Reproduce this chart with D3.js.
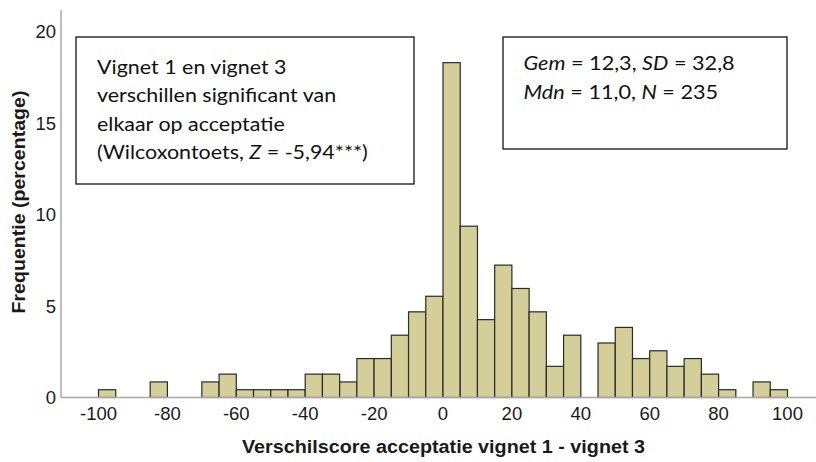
<!DOCTYPE html>
<html>
<head>
<meta charset="utf-8">
<script src="https://cdn.jsdelivr.net/npm/d3@7"></script>
<style>
  body { margin: 0; background: #fff; }
  svg { display: block; }
</style>
</head>
<body>
<div id="chart"></div>
<script>
"use strict";

// bins of 5 points, lower edges from -100 up to 95
let binStarts = d3.range(-100, 100, 5);
// number of respondents per bin (N = 235)
let binCounts = [1, 0, 0, 2, 0, 0, 2, 3, 1, 1, 1, 1, 3, 3, 2, 5, 5, 8, 11, 13,
                 43, 22, 10, 17, 14, 11, 4, 8, 0, 7, 9, 5, 6, 4, 5, 3, 1, 0, 2, 1];
let totalN = 235;

let xTicks = [-100, -80, -60, -40, -20, 0, 20, 40, 60, 80, 100];
let yTicks = [0, 5, 10, 15, 20];

let xTitle = "Verschilscore acceptatie vignet 1 - vignet 3";
let yTitle = "Frequentie (percentage)";

// text boxes, each line is a list of [text, italic]
let leftBoxLines = [
  [["Vignet 1 en vignet 3", false]],
  [["verschillen significant van", false]],
  [["elkaar op acceptatie", false]],
  [["(Wilcoxontoets, ", false], ["Z", true], [" = -5,94***)", false]]
];
let rightBoxLines = [
  [["Gem", true], [" = 12,3, ", false], ["SD", true], [" = 32,8", false]],
  [["Mdn", true], [" = 11,0, ", false], ["N", true], [" = 235", false]]
];

let bins = binStarts.map(function(lo, i) {
  return { lo: lo, hi: lo + 5, pct: binCounts[i] / totalN * 100 };
});

var width = 816,
    height = 462;

var svg = d3.select('#chart').append('svg')
  .attr('width', width)
  .attr('height', height);

var xScale = d3.scaleLinear().domain([-100, 100]).range([98.5, 787.5]);
var yScale = d3.scaleLinear().domain([0, 20]).range([397.5, 31.5]);

var axisFont = "'Liberation Sans', Arial, sans-serif";
var boxFont = "Lato, 'Open Sans', sans-serif";

// bars
svg.append('g').selectAll('rect')
  .data(bins.filter(function(d) { return d.pct > 0; }))
  .enter().append('rect')
    .attr('x', function(d) { return xScale(d.lo); })
    .attr('width', function(d) { return xScale(d.hi) - xScale(d.lo); })
    .attr('y', function(d) { return yScale(d.pct); })
    .attr('height', function(d) { return yScale(0) - yScale(d.pct); })
    .style('fill', '#d4cf99')
    .style('stroke', '#2a2a2a')
    .style('stroke-width', 1.2);

// axis lines (no tick marks in the original)
svg.append('line')
  .attr('x1', 61).attr('x2', 61)
  .attr('y1', 10).attr('y2', yScale(0))
  .style('stroke', '#a9a9a9').style('stroke-width', 1.5);
svg.append('line')
  .attr('x1', 61).attr('x2', width)
  .attr('y1', yScale(0)).attr('y2', yScale(0))
  .style('stroke', '#a9a9a9').style('stroke-width', 1.5);

// tick labels
svg.append('g').selectAll('text')
  .data(xTicks)
  .enter().append('text')
    .attr('x', function(d) { return xScale(d); })
    .attr('y', 419.5)
    .attr('text-anchor', 'middle')
    .style('font-family', axisFont)
    .style('font-size', '18.5px')
    .style('fill', '#1a1a1a')
    .text(function(d) { return d; });

svg.append('g').selectAll('text')
  .data(yTicks)
  .enter().append('text')
    .attr('x', 56)
    .attr('y', function(d) { return yScale(d); })
    .attr('dy', '0.36em')
    .attr('text-anchor', 'end')
    .style('font-family', axisFont)
    .style('font-size', '18.5px')
    .style('fill', '#1a1a1a')
    .text(function(d) { return d; });

// axis titles
svg.append('text')
  .attr('x', 443.5)
  .attr('y', 452.5)
  .attr('text-anchor', 'middle')
  .attr('textLength', 403)
  .attr('lengthAdjust', 'spacingAndGlyphs')
  .style('font-family', axisFont)
  .style('font-size', '17.5px')
  .style('font-weight', 'bold')
  .style('fill', '#1a1a1a')
  .text(xTitle);

svg.append('text')
  .attr('transform', 'translate(25,202) rotate(-90)')
  .attr('text-anchor', 'middle')
  .attr('textLength', 223)
  .attr('lengthAdjust', 'spacingAndGlyphs')
  .style('font-family', axisFont)
  .style('font-size', '17.5px')
  .style('font-weight', 'bold')
  .style('fill', '#1a1a1a')
  .text(yTitle);

// annotation boxes
function drawBox(x0, y0, x1, y1, lines, textX, firstBaseline, lineGap, stretch) {
  svg.append('rect')
    .attr('x', x0).attr('y', y0)
    .attr('width', x1 - x0).attr('height', y1 - y0)
    .style('fill', '#fff')
    .style('stroke', '#111')
    .style('stroke-width', 1.3);

  lines.forEach(function(parts, i) {
    let t = svg.append('text')
      .attr('transform', 'translate(' + textX + ',' + (firstBaseline + i * lineGap) + ') scale(' + stretch + ',1)')
      .style('font-family', boxFont)
      .style('font-size', '18.5px')
      .style('fill', '#111');
    parts.forEach(function(p) {
      t.append('tspan')
        .style('font-style', p[1] ? 'italic' : 'normal')
        .text(p[0]);
    });
  });
}

drawBox(76, 37, 414, 184, leftBoxLines, 97, 73.5, 28.5, 1.16);
drawBox(503, 37, 787, 149, rightBoxLines, 523.5, 70, 29.3, 1.17);

</script>
</body>
</html>
